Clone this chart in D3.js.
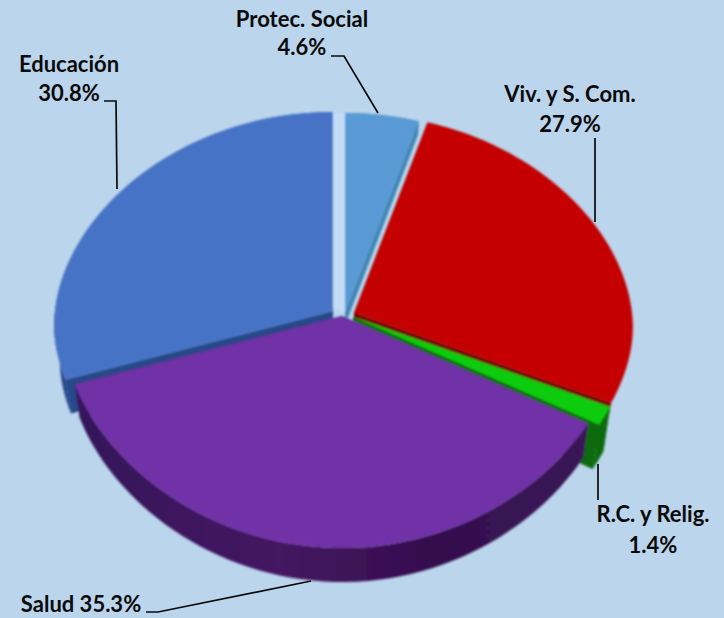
<!DOCTYPE html>
<html><head><meta charset="utf-8">
<script src="https://cdn.jsdelivr.net/npm/d3@7/dist/d3.min.js"></script>
<style>html,body{margin:0;padding:0;background:#bad5ec}svg{display:block}
text{font-family:Lato,"Open Sans",sans-serif;font-weight:700;font-size:22px;fill:#0a0a0a}</style>
</head><body><svg id="c" width="724" height="618"></svg>
<script>
const categories=["Protec. Social","Viv. y S. Com.","R.C. y Relig.","Salud","Educación"];
const values=[4.6,27.9,1.4,35.3,30.8];
const topColors=["#5a9ad4","#c40000","#10cc10","#7030a6","#4673c6"];
const sideColors=["#3f86b4","#6a0000","#0b6a10","#3c1558","#27498a"];
// explosion offset and wall depth of each slice (layout only)
const offsets=[[345,312],[354,313],[353,317],[342,316],[333,311]];
const wallDepth=[0.4,0,1.3,1,1];
const Rx=278,RyUp=199,RyDown=232,K=0.08,DEPTH=34;
const svg=d3.select("#c");
const arcs=d3.pie().sort(null).value(d=>d)(values);
const angle=d3.scaleLinear().domain([0,1]);
function P(o,a,r,z){
  const v=Math.cos(a),s=1/(1+K*v),xs=1-0.02*z;
  const dy=v>=0?-RyUp*v:RyDown*(-v)*(0.735+0.265*(-v));
  return [o[0]+Rx*Math.sin(a)*s*r*xs, o[1]+dy*r+DEPTH*z];
}
const line=d3.line();
function arcPts(o,a0,a1,z){
  angle.range([a0,a1]);
  return d3.range(0,1.0001,1/60).map(t=>P(o,angle(t),1,z));
}
function topFace(o,d){return [P(o,0,0,0),...arcPts(o,d.startAngle,d.endAngle,0)];}
function wall(o,d,z){return [...arcPts(o,d.startAngle,d.endAngle,0),...arcPts(o,d.startAngle,d.endAngle,z).reverse()];}
function cut(o,a,z){return [P(o,a,0,0),P(o,a,1,0),P(o,a,1,z),P(o,a,0,z)];}
const defs=svg.append("defs");
const g=defs.append("linearGradient").attr("id","wallP").attr("x1",0).attr("x2",1).attr("y1",0).attr("y2",0);
[[0,"#34125a"],[.4,"#451462"],[.7,"#35104e"],[1,"#3a1558"]].forEach(s=>g.append("stop").attr("offset",s[0]).attr("stop-color",s[1]));
const f=defs.append("filter").attr("id","soft").attr("x","-5%").attr("y","-5%").attr("width","110%").attr("height","110%");
f.append("feGaussianBlur").attr("stdDeviation",0.8);
const order=[4,0,1,2,3];
const root=svg.append("g").attr("filter","url(#soft)");
// pale strip between Educación and Protec. Social
root.append("path").attr("d",line([P(offsets[4],0,1,0),P(offsets[0],0,1,0),P(offsets[0],0,0,0),P(offsets[4],0,0.02,0)])+"Z").attr("fill","#c2dcf7");
order.forEach(i=>{
  const d=arcs[i],o=offsets[i],z=wallDepth[i],gg=root.append("g");
  const side=i===3?"url(#wallP)":sideColors[i];
  gg.append("path").attr("d",line(cut(o,d.startAngle,Math.max(z,0.3)))+"Z").attr("fill",sideColors[i]);
  gg.append("path").attr("d",line(cut(o,d.endAngle,Math.max(z,0.3)))+"Z").attr("fill",sideColors[i]);
  if(z>0) gg.append("path").attr("d",line(wall(o,d,z))+"Z").attr("fill",side);
  gg.append("path").attr("d",line(topFace(o,d))+"Z").attr("fill",topColors[i]);
});
const labels=[
 {t:"Protec. Social",x:302,y:27},
 {t:"4.6%",x:302,y:55},
 {t:"Educación",x:69,y:72},
 {t:"30.8%",x:69,y:101},
 {t:"Viv. y S. Com.",x:570,y:102},
 {t:"27.9%",x:570,y:132},
 {t:"R.C. y Relig.",x:653,y:522},
 {t:"1.4%",x:653,y:553},
 {t:"Salud 35.3%",x:81,y:612}];
svg.selectAll("text").data(labels).join("text").attr("x",d=>d.x).attr("y",d=>d.y).attr("text-anchor","middle").text(d=>d.t);
const leaders=[
 [[331,56],[344,56],[378,113]],
 [[104,101],[116,101],[117,189]],
 [[595,138],[595,222]],
 [[598,464],[598,500]],
 [[146,612],[158,612],[311,581]]];
svg.selectAll("path.l").data(leaders).join("path").attr("class","l").attr("d",d=>line(d)).attr("fill","none").attr("stroke","#0a0a0a").attr("stroke-width",1.7);
</script></body></html>
